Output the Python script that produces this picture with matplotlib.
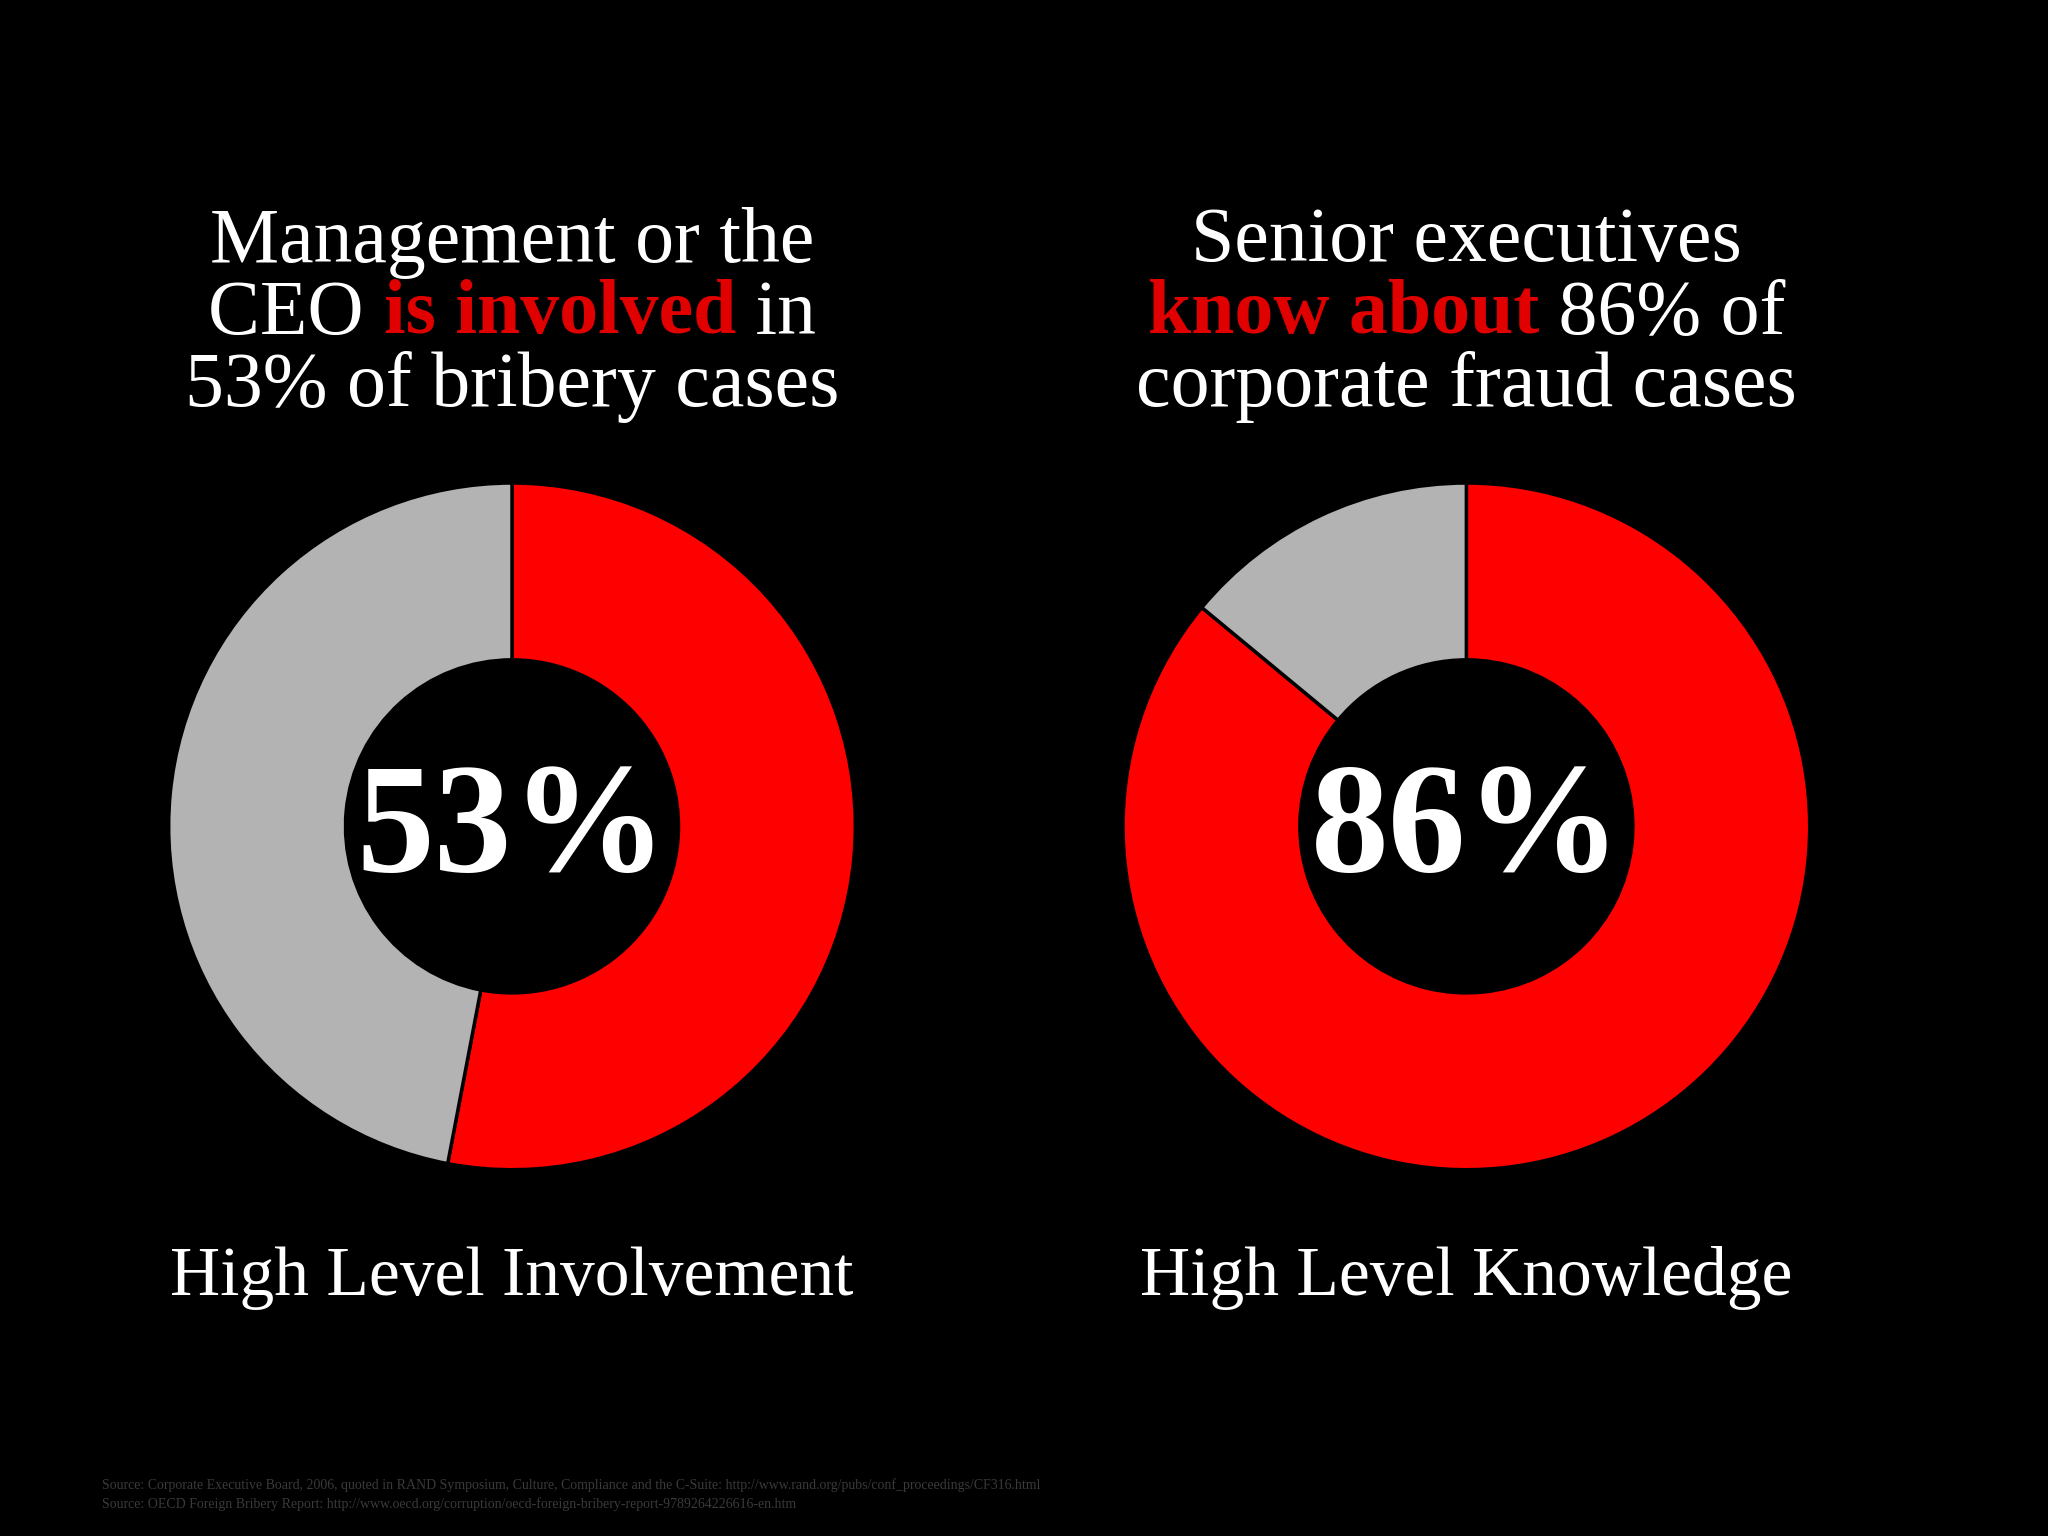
import matplotlib
matplotlib.use("Agg")
import matplotlib.pyplot as plt

values_left = [53, 47]
values_right = [86, 14]
center_labels = ["53%", "86%"]
bottom_labels = ["High Level Involvement", "High Level Knowledge"]
titles = [
    [[("Management or the", "white")],
     [("CEO ", "white"), ("is involved", "#e00000"), (" in", "white")],
     [("53% of bribery cases", "white")]],
    [[("Senior executives", "white")],
     [("know about", "#e00000"), (" 86% of", "white")],
     [("corporate fraud cases", "white")]],
]
sources = [
    "Source: Corporate Executive Board, 2006, quoted in RAND Symposium, Culture, Compliance and the C-Suite: http://www.rand.org/pubs/conf_proceedings/CF316.html",
    "Source: OECD Foreign Bribery Report: http://www.oecd.org/corruption/oecd-foreign-bribery-report-9789264226616-en.htm",
]
RED, GRAY = "#ff0000", "#b3b3b3"
SERIF = ["Liberation Serif", "DejaVu Serif"]

fig = plt.figure(figsize=(20.48, 15.36), dpi=100, facecolor="black")
centers = [0.25, 0.716]
for cx, vals, cl, bl, tl in zip(centers, [values_left, values_right], center_labels, bottom_labels, titles):
    w = 0.342; h = w * 4 / 3
    ax = fig.add_axes([cx - w / 2, 0.462 - h / 2, w, h])
    ax.pie(vals, colors=[RED, GRAY], startangle=90, counterclock=False,
           wedgeprops=dict(width=0.515, edgecolor="black", linewidth=2.5))
    ax.set_aspect("equal"); ax.set_xlim(-1.02, 1.02); ax.set_ylim(-1.02, 1.02)
    ax.axis("off")
    ax.text(0, -0.02, cl, ha="center", va="center", color="white",
            fontsize=112, fontweight="bold", family=SERIF)
    fig.text(cx, 0.168, bl, ha="center", va="center", color="white", fontsize=50, family=SERIF)
    # title lines with colored segments
    r = fig.canvas.get_renderer()
    for i, line in enumerate(tl):
        y = 0.842 - i * 0.047
        pieces = []
        for s, c in line:
            bold = c != "white"
            t = fig.text(0, y, s, color=c, fontsize=56, family=SERIF,
                         fontweight="bold" if bold else "normal", va="center", ha="left")
            pieces.append(t)
        widths = [p.get_window_extent(r).width / fig.bbox.width for p in pieces]
        x = cx - sum(widths) / 2
        for p, wd in zip(pieces, widths):
            p.set_x(x); x += wd

for i, s in enumerate(sources):
    fig.text(0.05, 0.033 - i * 0.012, s, color="#3a3a3a", fontsize=10, family=SERIF, va="center")

fig.savefig("out.png", dpi=100, facecolor="black")
